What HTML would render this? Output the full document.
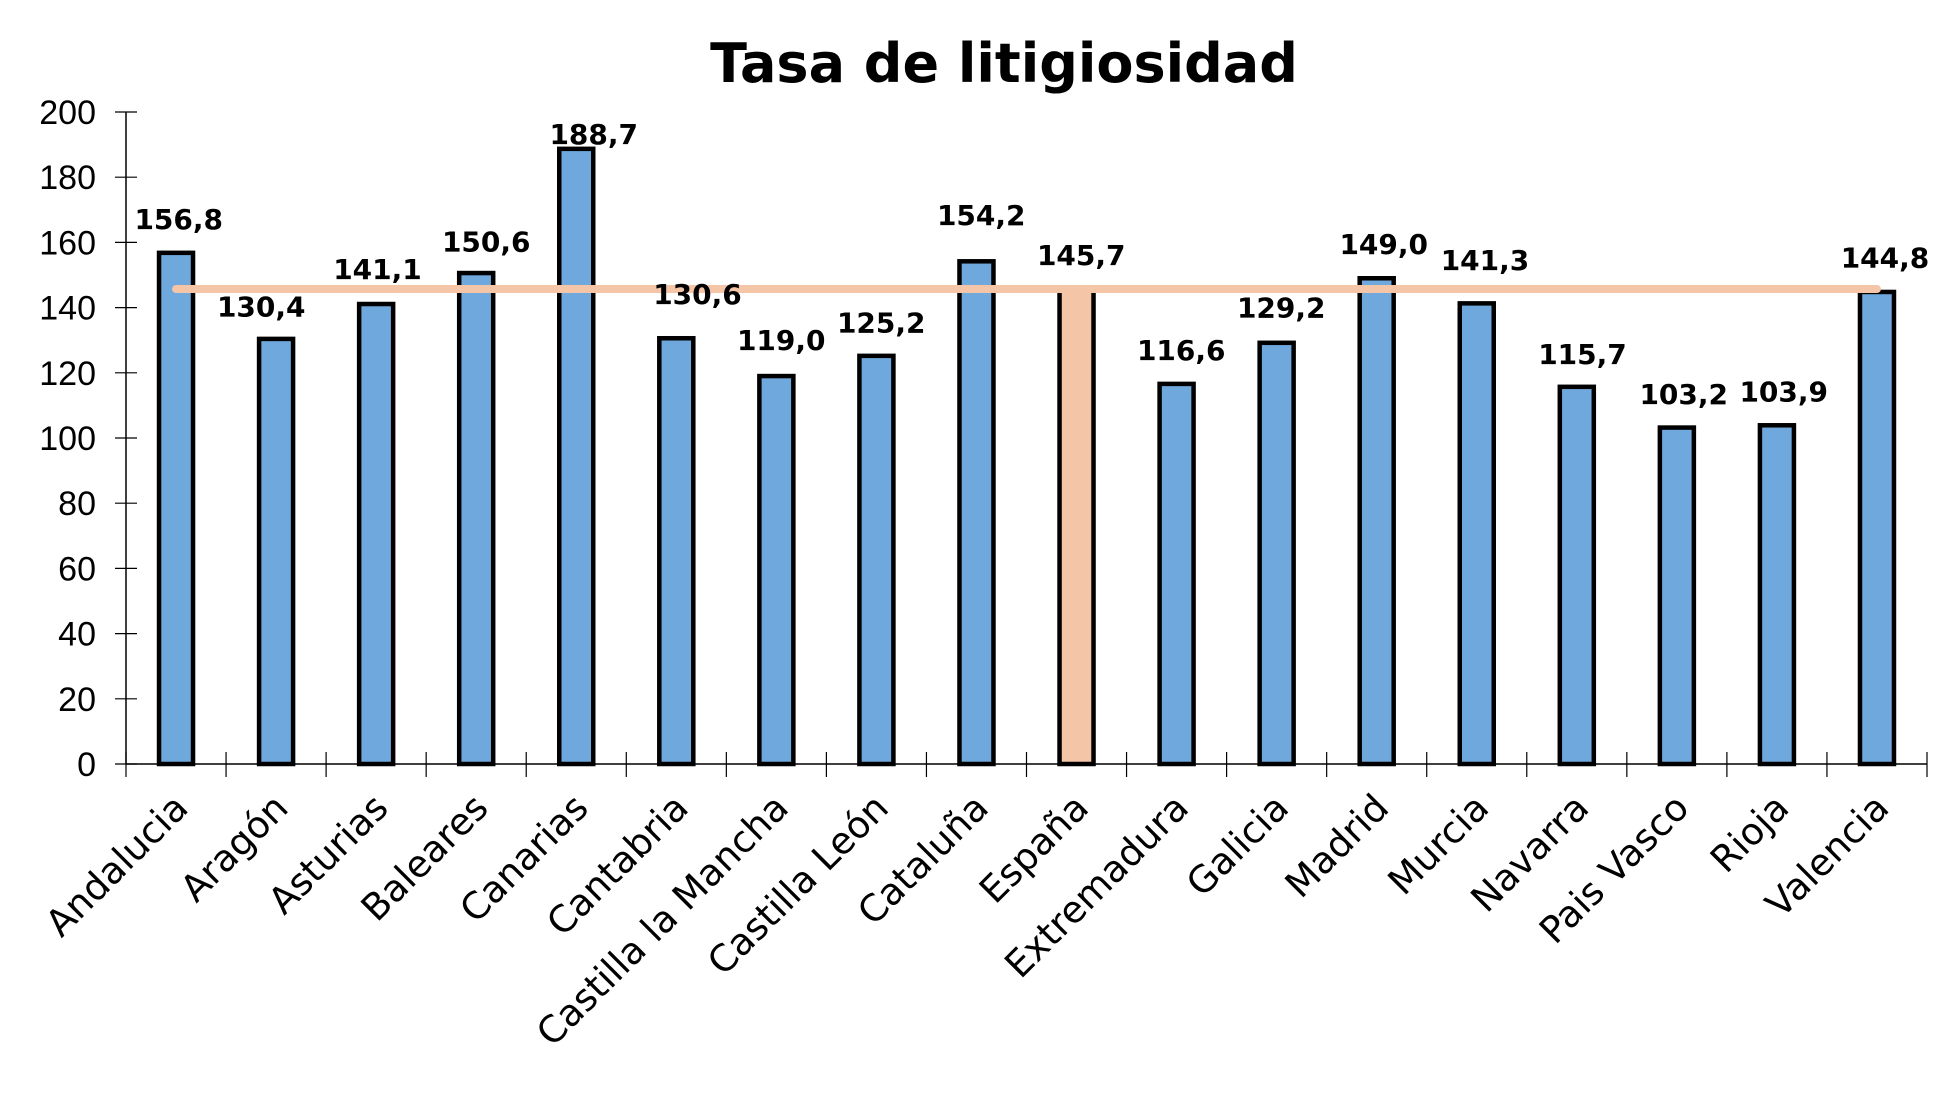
<!DOCTYPE html>
<html><head><meta charset="utf-8"><style>html,body{margin:0;padding:0;background:#fff}</style></head><body>
<svg width="1949" height="1101" viewBox="0 0 1949 1101" xmlns="http://www.w3.org/2000/svg">
<rect width="1949" height="1101" fill="#fff"/>
<text x="1004" y="82" text-anchor="middle" font-family="DejaVu Sans, sans-serif" font-weight="bold" font-size="54">Tasa de litigiosidad</text>
<g id="chart"></g>
<script>
(function(){
var ns="http://www.w3.org/2000/svg",g=document.getElementById('chart');
function el(n,a,t){var e=document.createElementNS(ns,n);for(var k in a)e.setAttribute(k,a[k]);if(t!=null)e.textContent=t;g.appendChild(e);return e;}
var X0=126,X1=1927,Y0=764,Y200=112,cw=(X1-X0)/18,s=(Y0-Y200)/200;
var names=["Andalucia","Aragón","Asturias","Baleares","Canarias","Cantabria","Castilla la Mancha","Castilla León","Cataluña","España","Extremadura","Galicia","Madrid","Murcia","Navarra","Pais Vasco","Rioja","Valencia"];
var vals=[156.8,130.4,141.1,150.6,188.7,130.6,119.0,125.2,154.2,145.7,116.6,129.2,149.0,141.3,115.7,103.2,103.9,144.8];
var ly=[175,245,215,193,107,235,272,258,172,204,280,246,195,208,283,315,313,206];
var lx=[143,209,302,389,475,558,625,705,785,865,945,1025,1107,1188,1266,1347,1427,1508];
el('line',{x1:X0,y1:Y200,x2:X0,y2:Y0,stroke:'#000','stroke-width':1.5});
el('line',{x1:X0,y1:Y0,x2:X1,y2:Y0,stroke:'#000','stroke-width':1.5});
for(var v=0;v<=200;v+=20){var y=Y0-v*s;
 el('line',{x1:X0-11,y1:y,x2:X0+11,y2:y,stroke:'#000','stroke-width':1.2});
 el('text',{x:X0-30,y:y+12,'text-anchor':'end','font-family':'Liberation Sans, sans-serif','font-size':34},String(v));}
for(var i=0;i<=18;i++){var x=X0+i*cw;el('line',{x1:x,y1:Y0-12,x2:x,y2:Y0+13,stroke:'#000','stroke-width':1.2});}
for(var i=0;i<18;i++){var cx=X0+cw*(i+0.5),h=vals[i]*s;
 el('rect',{x:cx-17,y:Y0-h,width:34,height:h,fill:i==9?'#f5c5a8':'#6fa8dc',stroke:'#000','stroke-width':4.5});
 el('text',{x:cx+14,y:810,'text-anchor':'end','font-family':'DejaVu Sans, sans-serif','font-size':37,transform:'rotate(-45 '+(cx+14)+' 810)'},names[i]);
}
var c0=X0+cw*0.5,c1=X0+cw*17.5,ya=Y0-145.7*s;
el('line',{x1:c0,y1:ya,x2:c1,y2:ya,stroke:'#f5c5a8','stroke-width':8,'stroke-linecap':'round'});
for(var i=0;i<18;i++){
 el('text',{x:lx[i]*1.25,y:ly[i]*1.25+10,'text-anchor':'middle','font-family':'DejaVu Sans, sans-serif','font-weight':'bold','font-size':28},vals[i].toFixed(1).replace('.',','));}
})();
</script>
</svg>
</body></html>
